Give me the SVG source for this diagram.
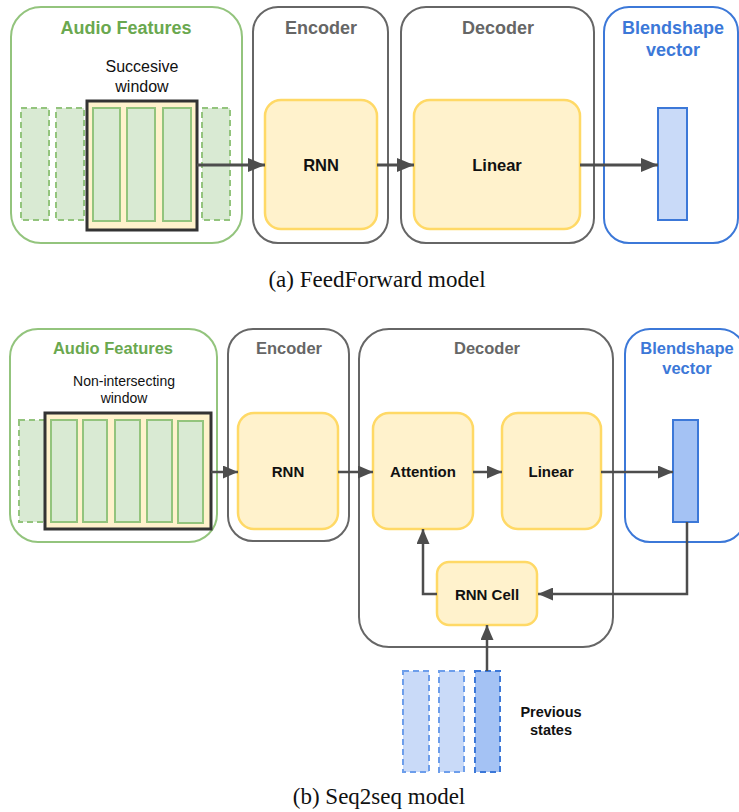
<svg xmlns="http://www.w3.org/2000/svg" width="739" height="812" viewBox="0 0 739 812">
<defs>
<marker id="ah" markerUnits="userSpaceOnUse" markerWidth="17" markerHeight="14" refX="17" refY="7" orient="auto"><path d="M0,0 L17,7 L0,14 z" fill="#4d4d4d"/></marker>
<marker id="ah2" markerUnits="userSpaceOnUse" markerWidth="15" markerHeight="13" refX="15" refY="6.5" orient="auto"><path d="M0,0 L15,6.5 L0,13 z" fill="#4d4d4d"/></marker>
<style>
.t{font-family:"Liberation Sans",Arial,sans-serif;text-anchor:middle}
.b{font-weight:bold}
.grn{fill:#6aa84f}.gry{fill:#666666}.blu{fill:#3c78d8}.blk{fill:#111111}
.cg{fill:#ffffff;stroke:#93c47d;stroke-width:2}
.cy{fill:#ffffff;stroke:#666666;stroke-width:2}
.cb{fill:#ffffff;stroke:#3c78d8;stroke-width:2}
.node{fill:#fff2cc;stroke:#ffd966;stroke-width:2.5}
.win{fill:#fff2cc;stroke:#333333;stroke-width:3}
.feat{fill:#d9ead3;stroke:#93c47d;stroke-width:2}
.featd{fill:#d9ead3;stroke:#93c47d;stroke-width:2;stroke-dasharray:6,4}
.bv{fill:#c9daf8;stroke:#3c78d8;stroke-width:2}
.bv2{fill:#a4c2f4;stroke:#3c78d8;stroke-width:2}
.pd{fill:#c9daf8;stroke:#6d9eeb;stroke-width:2;stroke-dasharray:6,4}
.pd2{fill:#a4c2f4;stroke:#3c78d8;stroke-width:2;stroke-dasharray:6,4}
.a{fill:none;stroke:#4d4d4d;stroke-width:3;marker-end:url(#ah)}
.a2{fill:none;stroke:#4d4d4d;stroke-width:2.5;marker-end:url(#ah2)}
.cap{font-family:"Liberation Serif","Times New Roman",serif;font-size:23px;fill:#111;text-anchor:middle}
</style>
</defs>

<!-- (a) FeedForward model -->
<g id="a-audio">
<rect class="cg" x="11" y="7" width="231" height="236" rx="30"/>
<text class="t b grn" x="126" y="34" font-size="18">Audio Features</text>
<text class="t blk" x="142" y="72" font-size="16">Succesive</text>
<text class="t blk" x="142" y="92" font-size="16">window</text>
<rect class="featd" x="21" y="108" width="28" height="112"/>
<rect class="featd" x="56" y="108" width="28" height="112"/>
<rect class="featd" x="202" y="108" width="28" height="112"/>
<rect class="win" x="87" y="101" width="110" height="129"/>
<rect class="feat" x="93" y="108" width="27" height="113"/>
<rect class="feat" x="127" y="108" width="28" height="113"/>
<rect class="feat" x="163" y="108" width="28" height="113"/>
</g>
<g id="a-encoder">
<rect class="cy" x="253" y="7" width="135" height="236" rx="25"/>
<text class="t b gry" x="321" y="34" font-size="18">Encoder</text>
</g>
<g id="a-rnn">
<rect class="node" x="265" y="100" width="112" height="129" rx="16"/>
<text class="t b blk" x="321" y="171" font-size="16.5">RNN</text>
</g>
<g id="a-decoder">
<rect class="cy" x="401" y="7" width="193" height="236" rx="25"/>
<text class="t b gry" x="498" y="34" font-size="18">Decoder</text>
</g>
<g id="a-linear">
<rect class="node" x="414" y="100" width="166" height="129" rx="16"/>
<text class="t b blk" x="497" y="171" font-size="16.5">Linear</text>
</g>
<g id="a-blend">
<rect class="cb" x="604" y="7" width="134" height="236" rx="25"/>
<text class="t b blu" x="673" y="34" font-size="18">Blendshape</text>
<text class="t b blu" x="673" y="56" font-size="18">vector</text>
<rect class="bv" x="658" y="108" width="29" height="112"/>
</g>
<g id="a-connectors">
<path class="a" d="M197,165 H265"/>
<path class="a" d="M377,165 H414"/>
<path class="a" d="M580,165 H658"/>
</g>
<text class="cap" x="377" y="287">(a) FeedForward model</text>

<!-- (b) Seq2seq model -->
<g id="b-audio">
<rect class="cg" x="10" y="329" width="207" height="213" rx="28"/>
<text class="t b grn" x="113" y="354" font-size="16.5">Audio Features</text>
<text class="t blk" x="124" y="386" font-size="14">Non-intersecting</text>
<text class="t blk" x="124" y="403" font-size="14">window</text>
<rect class="featd" x="19" y="420" width="26" height="102"/>
<rect class="win" x="45" y="413" width="166" height="116"/>
<rect class="feat" x="51" y="420" width="26" height="102"/>
<rect class="feat" x="83" y="420" width="24" height="102"/>
<rect class="feat" x="115" y="420" width="25" height="102"/>
<rect class="feat" x="147" y="420" width="25" height="102"/>
<rect class="feat" x="178" y="421" width="25" height="102"/>
</g>
<g id="b-encoder">
<rect class="cy" x="228" y="329" width="121" height="212" rx="25"/>
<text class="t b gry" x="289" y="354" font-size="16.5">Encoder</text>
</g>
<g id="b-rnn">
<rect class="node" x="238" y="413" width="100" height="116" rx="16"/>
<text class="t b blk" x="288" y="477" font-size="15">RNN</text>
</g>
<g id="b-decoder">
<rect class="cy" x="359" y="329" width="254" height="318" rx="30"/>
<text class="t b gry" x="487" y="354" font-size="16.5">Decoder</text>
</g>
<g id="b-attention">
<rect class="node" x="373" y="413" width="100" height="116" rx="16"/>
<text class="t b blk" x="423" y="477" font-size="15">Attention</text>
</g>
<g id="b-linear">
<rect class="node" x="502" y="413" width="99" height="116" rx="16"/>
<text class="t b blk" x="551" y="477" font-size="15">Linear</text>
</g>
<g id="b-rnncell">
<rect class="node" x="437" y="562" width="100" height="63" rx="12"/>
<text class="t b blk" x="487" y="600" font-size="15">RNN Cell</text>
</g>
<g id="b-blend">
<rect class="cb" x="625" y="329" width="120" height="213" rx="25"/>
<text class="t b blu" x="687" y="354" font-size="16.5">Blendshape</text>
<text class="t b blu" x="687" y="374" font-size="16.5">vector</text>
<rect class="bv2" x="673" y="420" width="25" height="102"/>
</g>
<g id="b-previous">
<rect class="pd" x="403" y="671" width="26" height="101"/>
<rect class="pd" x="439" y="671" width="25" height="101"/>
<rect class="pd2" x="475" y="671" width="25" height="101"/>
<text class="t b blk" x="551" y="717" font-size="14.5">Previous</text>
<text class="t b blk" x="551" y="735" font-size="14.5">states</text>
</g>
<g id="b-connectors">
<path class="a2" d="M211,472 H238"/>
<path class="a2" d="M338,472 H373"/>
<path class="a2" d="M473,472 H502"/>
<path class="a2" d="M601,472 H673"/>
<path class="a2" d="M687,522 V594 H538"/>
<path class="a2" d="M437,594 H423 V529"/>
<path class="a2" d="M487,671 V625"/>
</g>
<text class="cap" x="379" y="804">(b) Seq2seq model</text>
</svg>
